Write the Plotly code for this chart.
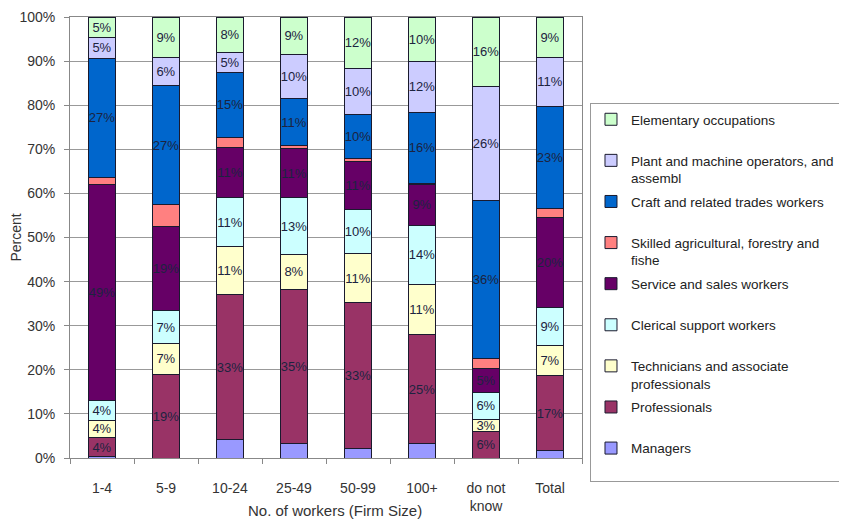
import plotly.graph_objects as go

categories = ["1-4", "5-9", "10-24", "25-49", "50-99", "100+", "do not<br>know", "Total"]

managers      = [0.3, 0.0, 4.2, 3.3, 2.2, 3.3, 0.0, 1.6]
professionals = [4.3, 19.0, 32.8, 34.9, 33.0, 24.6, 6.1, 17.2]
technicians   = [4.0, 7.0, 10.9, 8.0, 11.2, 11.4, 2.6, 6.7]
clerical      = [4.4, 7.4, 11.2, 12.8, 9.9, 13.5, 6.2, 8.7]
service       = [49.0, 19.0, 11.4, 11.2, 11.0, 9.2, 5.4, 20.4]
skilled       = [1.7, 5.0, 2.2, 0.6, 0.6, 0.2, 2.2, 2.0]
craft         = [27.0, 27.0, 14.7, 10.7, 10.1, 16.2, 35.9, 23.2]
plant         = [4.6, 6.4, 4.6, 9.9, 10.4, 11.5, 25.9, 11.0]
elementary    = [4.7, 9.2, 8.0, 8.6, 11.6, 10.1, 15.7, 9.2]

series_names = [
    "Managers<br> ",
    "Professionals<br> ",
    "Technicians and associate<br>professionals",
    "Clerical support workers<br> ",
    "Service and sales workers<br> ",
    "Skilled agricultural, forestry and<br>fishe",
    "Craft and related trades workers<br> ",
    "Plant and machine operators, and<br>assembl",
    "Elementary occupations<br> ",
]
series_values = [managers, professionals, technicians, clerical, service,
                 skilled, craft, plant, elementary]
series_colors = ["#9999FF", "#993366", "#FFFFCC", "#CCFFFF", "#660066",
                 "#FF8080", "#0066CC", "#CCCCFF", "#CCFFCC"]
show_labels = [False, True, True, True, True, False, True, True, True]

fig = go.Figure()
n = len(series_names)
for i, (name, vals, col, show) in enumerate(zip(series_names, series_values, series_colors, show_labels)):
    txt = [f"{round(v)}%" if show else "" for v in vals]
    fig.add_trace(go.Bar(
        x=categories, y=vals, name=name, legendgroup=f"g{i}",
        legendrank=n - i,
        marker=dict(color=col, line=dict(color="#1a1a2e", width=1)),
        text=txt, textposition="inside", insidetextanchor="middle",
        textangle=0, constraintext="none",
        textfont=dict(family="Liberation Sans, Arial", size=13, color="#1c2340"),
        hoverinfo="x+y+name",
    ))

fig.update_layout(
    barmode="stack",
    bargap=0.58,
    width=847, height=525,
    margin=dict(l=62, r=273, t=9, b=75),
    paper_bgcolor="white",
    plot_bgcolor="white",
    font=dict(family="Liberation Sans, Arial", size=14, color="#333333"),
    showlegend=True,
    legend=dict(
        x=1.0156, xanchor="left", y=0.805, yanchor="top",
        traceorder="grouped",
        tracegroupgap=3,
        bordercolor="#999999", borderwidth=1,
        font=dict(size=13.5, color="#222222"),
        valign="top",
        itemwidth=30,
    ),
    xaxis=dict(
        automargin=False,
        showline=True, linecolor="#888888", linewidth=1, mirror=True,
        ticks="outside", tickson="boundaries", ticklen=5, tickcolor="#888888",
        ticklabelstandoff=17,
        ticklabeloverflow="allow",
        tickfont=dict(size=14, color="#333333"),
    ),
    yaxis=dict(
        automargin=False,
        range=[0, 100], dtick=10, ticksuffix="%",
        showgrid=True, gridcolor="#999999", gridwidth=1,
        showline=True, linecolor="#888888", linewidth=1, mirror=True,
        ticks="outside", ticklen=5, tickcolor="#888888",
        ticklabelstandoff=6,
        ticklabeloverflow="allow",
        title=dict(text="Percent", font=dict(size=14, color="#333333")),
        tickfont=dict(size=14, color="#333333"),
        zeroline=False,
    ),
    annotations=[dict(
        text="No. of workers (Firm Size)", xref="paper", yref="paper",
        x=0.518, y=-0.118, xanchor="center", yanchor="middle",
        showarrow=False, font=dict(size=15, color="#333333"),
    )],
)

fig.write_html("out.html")
